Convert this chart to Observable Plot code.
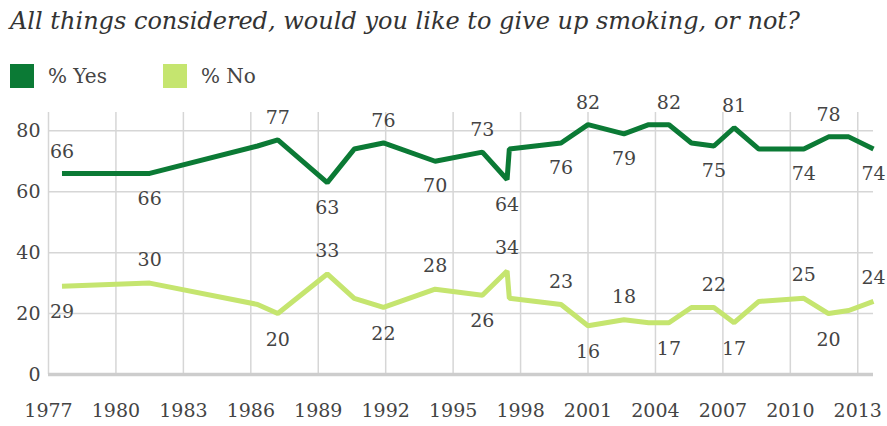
<!DOCTYPE html>
<html>
<head>
<meta charset="utf-8">
<script src="https://cdn.jsdelivr.net/npm/d3@7"></script>
<script src="https://cdn.jsdelivr.net/npm/@observablehq/plot@0.6"></script>
<style>
  html, body { margin: 0; padding: 0; background: #fff; }
  #wrap { position: relative; width: 887px; height: 426px; overflow: hidden; }
  #title { position: absolute; left: 10px; top: 6px; white-space: nowrap;
    font-family: "DejaVu Serif", serif; font-style: italic;
    font-size: 23px; color: #333; line-height: 30px; }
  #legend { position: absolute; left: 10px; top: 64px; display: flex; align-items: center;
    font-family: "DejaVu Serif", serif; font-size: 20px; color: #444; line-height: 24px; }
  .sw { width: 24px; height: 24px; display: inline-block; margin-right: 14px; }
  .item { display: flex; align-items: center; }
</style>
</head>
<body>
<div id="wrap">
  <div id="chart"></div>
  <div id="title"></div>
  <div id="legend"></div>
</div>
<script>
// ---- data ----
const titleText = "All things considered, would you like to give up smoking, or not?";
const seriesNames = ["% Yes", "% No"];
const years = [1977.6, 1981.5, 1986.3, 1987.2, 1989.4, 1990.6, 1991.9, 1994.2, 1996.3, 1997.4, 1997.5, 1999.8,
               2001.0, 2002.6, 2003.7, 2004.6, 2005.6, 2006.6, 2007.5, 2008.6, 2010.6, 2011.7, 2012.6, 2013.7];
const yesValues = [66, 66, 75, 77, 63, 74, 76, 70, 73, 64, 74, 76, 82, 79, 82, 82, 76, 75, 81, 74, 74, 78, 78, 74];
const noValues  = [29, 30, 23, 20, 33, 25, 22, 28, 26, 34, 25, 23, 16, 18, 17, 17, 22, 22, 17, 24, 25, 20, 21, 24];
// which points carry a value label: 1 = above the line, -1 = below, 0 = none
const yesLabelSide = [1, -1, 0, 1, -1, 0, 1, -1, 1, -1, 0, -1, 1, -1, 0, 1, 0, -1, 1, 0, -1, 1, 0, -1];
const noLabelSide  = [-1, 1, 0, -1, 1, 0, -1, 1, -1, 1, 0, 1, -1, 1, 0, -1, 0, 1, -1, 0, 1, -1, 0, 1];
const xTicks = [1977, 1980, 1983, 1986, 1989, 1992, 1995, 1998, 2001, 2004, 2007, 2010, 2013];
const yTicks = [0, 20, 40, 60, 80];
const colors = ["#0b7a35", "#c5e56f"];

// ---- build table ----
const rows = years.map((yr, i) => ({year: yr, yes: yesValues[i], no: noValues[i],
  yesSide: yesLabelSide[i], noSide: noLabelSide[i]}));

const textStyle = {fontFamily: "DejaVu Serif, serif", fontSize: 19, fill: "#444"};
const labelMarks = (key, sideKey, upDy, downDy) => [
  Plot.text(rows.filter(d => d[sideKey] > 0), {x: "year", y: key, text: d => String(d[key]), dy: upDy, ...textStyle}),
  Plot.text(rows.filter(d => d[sideKey] < 0), {x: "year", y: key, text: d => String(d[key]), dy: downDy, ...textStyle})
];

const chart = Plot.plot({
  width: 887,
  height: 426,
  marginLeft: 48,
  marginRight: 14,
  marginTop: 112,
  marginBottom: 52,
  style: {fontFamily: "DejaVu Serif, serif", fontSize: "19px", color: "#444", background: "transparent", overflow: "visible"},
  x: {domain: [1977, 2013.7]},
  y: {domain: [0, 86]},
  marks: [
    Plot.gridX(xTicks, {stroke: "#d6d6d6", strokeOpacity: 1, strokeWidth: 1.5}),
    Plot.gridY(yTicks.filter(d => d > 0), {stroke: "#d6d6d6", strokeOpacity: 1, strokeWidth: 1.5}),
    Plot.ruleY([0], {stroke: "#cdcdcd", strokeWidth: 3.5}),
    Plot.axisX(xTicks, {tickSize: 0, tickPadding: 29, tickFormat: d => String(d), label: null, fill: "#444"}),
    Plot.axisY(yTicks, {tickSize: 0, tickPadding: 8, label: null, fill: "#444"}),
    Plot.line(rows, {x: "year", y: "no", stroke: colors[1], strokeWidth: 5, strokeLinejoin: "miter", strokeLinecap: "butt"}),
    Plot.line(rows, {x: "year", y: "yes", stroke: colors[0], strokeWidth: 5, strokeLinejoin: "miter", strokeLinecap: "butt"}),
    ...labelMarks("yes", "yesSide", -22, 25),
    ...labelMarks("no", "noSide", -23, 26)
  ]
});
document.getElementById("chart").appendChild(chart);

// title, fitted to the reference width
const titleEl = document.getElementById("title");
titleEl.textContent = titleText;
const ctx = document.createElement("canvas").getContext("2d");
ctx.font = 'italic 23px "DejaVu Serif"';
const w = ctx.measureText(titleText).width;
if (w > 0) titleEl.style.fontSize = Math.min(26, 23 * 790 / w).toFixed(2) + "px";

// legend
const legend = document.getElementById("legend");
seriesNames.forEach((name, i) => {
  const item = document.createElement("div");
  item.className = "item";
  item.style.marginRight = i === 0 ? "56px" : "0";
  const sw = document.createElement("span");
  sw.className = "sw";
  sw.style.background = colors[i];
  const t = document.createElement("span");
  t.textContent = name;
  item.appendChild(sw);
  item.appendChild(t);
  legend.appendChild(item);
});
</script>
</body>
</html>
